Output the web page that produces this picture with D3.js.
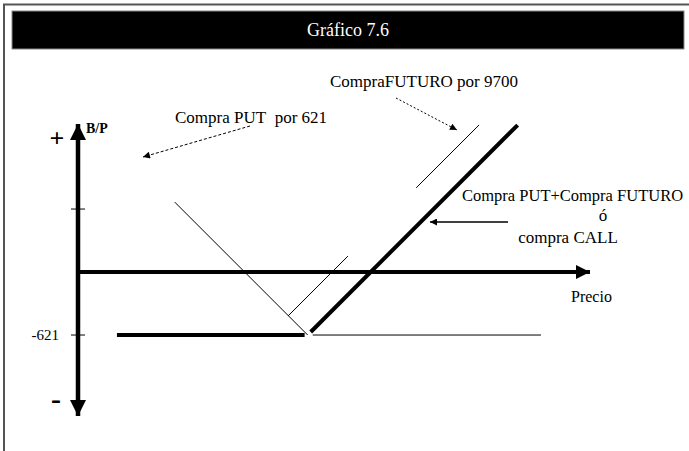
<!DOCTYPE html>
<html>
<head>
<meta charset="utf-8">
<script src="https://cdn.jsdelivr.net/npm/d3@7"></script>
<style>
  body { margin: 0; background: #fff; }
  svg text { font-family: "Liberation Serif", "DejaVu Serif", "Times New Roman", Times, serif; }
</style>
</head>
<body>
<div id="chart"></div>
<script>
// Datos del gráfico (precio, beneficio/pérdida)
var prima = 621;
var futuro = 9700;
var strike = 9460;
var yTicks = [621, -621];
var tickLabels = ["", "-621"];

// Compra PUT: recta desde arriba a la izquierda hasta el strike
var putLine = [[8150, strike - 8150 - prima], [strike, -prima]];
// Compra PUT: tramo horizontal fino a la derecha del strike
var putFlat = [[9510, -prima], [11760, -prima]];
// Compra FUTURO: dos tramos
var futuroLow = [[9266, 9266 - futuro], [9857, 9857 - futuro]];
var futuroHigh = [[10530, 10530 - futuro], [11150, 11150 - futuro]];
// Compra PUT + Compra FUTURO (= compra CALL)
var callFlat = [[7580, -prima], [9430, -prima]];
var callUp = [[9490, 9490 - strike - prima], [11530, 11530 - strike - prima]];

var W = 689, H = 451;
var svg = d3.select("#chart").append("svg")
  .attr("width", W).attr("height", H);

function label(px, py, txt, size, anchor, bold) {
  return svg.append("text").attr("x", px).attr("y", py)
    .style("font-size", size + "px")
    .attr("text-anchor", anchor || "start")
    .style("font-weight", bold ? "bold" : "normal")
    .attr("fill", "#000").text(txt);
}

// marco
svg.append("line").attr("x1", 3).attr("y1", 4.5).attr("x2", W).attr("y2", 4.5)
  .attr("stroke", "#555").attr("stroke-width", 2);
svg.append("line").attr("x1", 4).attr("y1", 4).attr("x2", 4).attr("y2", H)
  .attr("stroke", "#555").attr("stroke-width", 2);

// barra del título
svg.append("rect").attr("x", 12).attr("y", 11).attr("width", 672).attr("height", 38)
  .attr("fill", "#000").attr("stroke", "#888").attr("stroke-width", 1);
label(348, 36, "Gráfico 7.6", 18, "middle").attr("fill", "#fff");

var x = d3.scaleLinear().domain([7196, 12263]).range([78, 592]);
var y = d3.scaleLinear().domain([-1439, 1479]).range([418, 122]);

var defs = svg.append("defs");
defs.append("marker").attr("id", "axArrow").attr("viewBox", "0 0 10 10")
  .attr("refX", 10).attr("refY", 5).attr("markerWidth", 3.6).attr("markerHeight", 3.6)
  .attr("markerUnits", "strokeWidth").attr("orient", "auto-start-reverse")
  .append("path").attr("d", "M0,0L10,5L0,10Z").attr("fill", "#000");
defs.append("marker").attr("id", "smArrow").attr("viewBox", "0 0 10 10")
  .attr("refX", 10).attr("refY", 5).attr("markerWidth", 9).attr("markerHeight", 7)
  .attr("markerUnits", "userSpaceOnUse").attr("orient", "auto")
  .append("path").attr("d", "M0,0L10,5L0,10Z").attr("fill", "#000");

// ejes
svg.append("line")
  .attr("x1", x(7196)).attr("y1", y(-1439) - 2).attr("x2", x(7196)).attr("y2", y(1479) + 2)
  .attr("stroke", "#000").attr("stroke-width", 4.5)
  .attr("marker-start", "url(#axArrow)").attr("marker-end", "url(#axArrow)");
svg.append("line")
  .attr("x1", x(7196)).attr("y1", y(0)).attr("x2", x(12263) - 2).attr("y2", y(0))
  .attr("stroke", "#000").attr("stroke-width", 4)
  .attr("marker-end", "url(#axArrow)");

// marcas del eje vertical
svg.selectAll(".tick").data(yTicks).enter().append("line")
  .attr("x1", x(7196) - 7).attr("x2", x(7196) + 7)
  .attr("y1", function(d) { return y(d); }).attr("y2", function(d) { return y(d); })
  .attr("stroke", "#000").attr("stroke-width", 1);
yTicks.forEach(function(d, i) {
  label(59, y(d) + 5, tickLabels[i], 15, "end");
});

label(57, 147, "+", 26, "middle", true);
label(56, 409, "-", 30, "middle", true);
label(86, 133, "B/P", 14, "start", true);
label(571, 302, "Precio", 16);

var line = d3.line().x(function(d) { return x(d[0]); }).y(function(d) { return y(d[1]); });

function draw(data, w) {
  svg.append("path").datum(data).attr("d", line)
    .attr("fill", "none").attr("stroke", "#000").attr("stroke-width", w);
}
draw(putLine, 1);
draw(putFlat, 1);
draw(futuroLow, 1);
draw(futuroHigh, 1);
draw(callFlat, 4);
draw(callUp, 4);

// etiquetas y flechas
label(175, 123, "Compra PUT\u00a0\u00a0por 621", 17);
svg.append("line").attr("x1", 250).attr("y1", 126).attr("x2", 143).attr("y2", 157)
  .attr("stroke", "#000").attr("stroke-width", 1).attr("stroke-dasharray", "3,2")
  .attr("marker-end", "url(#smArrow)");

label(330, 87, "CompraFUTURO por 9700", 17);
svg.append("line").attr("x1", 396).attr("y1", 98).attr("x2", 457).attr("y2", 130)
  .attr("stroke", "#000").attr("stroke-width", 1).attr("stroke-dasharray", "2,2")
  .attr("marker-end", "url(#smArrow)");

label(462, 201, "Compra PUT+Compra FUTURO", 16.5);
label(603, 221, "ó", 17, "middle");
label(568, 243, "compra CALL", 17, "middle");
svg.append("line").attr("x1", 508).attr("y1", 222).attr("x2", 430).attr("y2", 222)
  .attr("stroke", "#000").attr("stroke-width", 1.5)
  .attr("marker-end", "url(#smArrow)");
</script>
</body>
</html>
